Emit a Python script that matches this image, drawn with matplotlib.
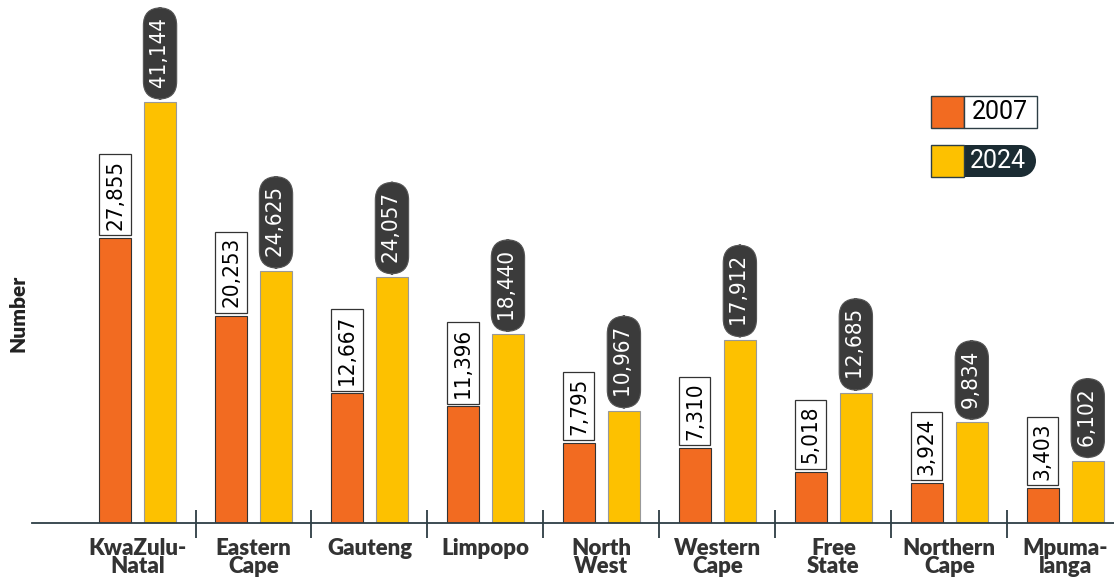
import matplotlib
matplotlib.use('Agg')
import numpy as np
import matplotlib.pyplot as plt
from matplotlib.patches import Rectangle, Circle

provinces = ['KwaZulu-\nNatal', 'Eastern\nCape', 'Gauteng', 'Limpopo', 'North\nWest',
             'Western\nCape', 'Free\nState', 'Northern\nCape', 'Mpuma-\nlanga']
v2007 = [27855, 20253, 12667, 11396, 7795, 7310, 5018, 3924, 3403]
v2024 = [41144, 24625, 24057, 18440, 10967, 17912, 12685, 9834, 6102]
years = ['2007', '2024']

ORANGE = '#F26B21'
YELLOW = '#FDC100'
PILL = '#3b3b3b'
DARK = '#1b2c33'
NUMFONT = dict(family='DejaVu Sans', stretch='condensed')

fig = plt.figure(figsize=(11.14, 5.77), dpi=100)
ax = fig.add_axes([32 / 1114, 54 / 577, 1 - 32 / 1114, 1 - 54 / 577])

x = np.arange(len(provinces))
w = 0.276
off = 0.194
ax.bar(x - off, v2007, w, color=ORANGE, edgecolor='#333333', linewidth=0.8)
ax.bar(x + off, v2024, w, color=YELLOW, edgecolor='#999999', linewidth=0.8)

# value labels
for xi, v in zip(x, v2007):
    ax.annotate('{:,}'.format(v), xy=(xi - off, v), xytext=(0, 6), textcoords='offset points',
                rotation=90, ha='center', va='bottom', fontsize=16, color='black', **NUMFONT,
                bbox=dict(boxstyle='square,pad=0.25', fc='white', ec='#333333', lw=0.9))
for xi, v in zip(x, v2024):
    ax.annotate('\u2009{:,}\u2009'.format(v), xy=(xi + off, v), xytext=(0, 7), textcoords='offset points',
                rotation=90, ha='center', va='bottom', fontsize=16, color='white', **NUMFONT,
                bbox=dict(boxstyle='round,pad=0.3,rounding_size=0.8', fc=PILL, ec='#555555', lw=0.8))

ax.set_xlim(-0.91, 8.42)
ax.set_ylim(0, 51120)

# group separators
ax.vlines(x[:-1] + 0.5, -1470, 1270, color=DARK, lw=1.2, clip_on=False)

for s in ['top', 'right', 'left']:
    ax.spines[s].set_visible(False)
ax.spines['bottom'].set_color('#2d3e45')
ax.spines['bottom'].set_linewidth(1.3)
ax.set_yticks([])
ax.set_xticks(x)
ax.set_xticklabels(provinces, fontsize=16, fontweight='heavy', family='Lato', color='#333333',
                   linespacing=0.78)
ax.tick_params(axis='x', length=0, pad=11)

fig.text(18 / 1114, 1 - 313 / 577, 'Number', rotation=90, ha='center', va='center',
         fontsize=15, fontweight='heavy', family='Lato', color='#222222')

# legend (drawn in inches from bottom-left)
def px(xp, yp):
    return xp / 100, (577 - yp) / 100

tr = fig.dpi_scale_trans
fig.add_artist(Rectangle(px(931, 128), 0.33, 0.32, transform=tr, fc=ORANGE, ec='#2d3e45', lw=1))
fig.add_artist(Rectangle(px(964, 128), 0.73, 0.32, transform=tr, fc='white', ec='#2d3e45', lw=1))
fig.text(1000 / 1114, 1 - 112 / 577, years[0], ha='center', va='center', fontsize=18,
         family='Roboto', color='black')
fig.add_artist(Rectangle(px(964, 177), 0.56, 0.32, transform=tr, fc=DARK, ec=DARK, lw=0))
fig.add_artist(Circle(px(1020, 161), 0.16, transform=tr, fc=DARK, ec=DARK, lw=0))
fig.add_artist(Rectangle(px(931, 177), 0.33, 0.32, transform=tr, fc=YELLOW, ec='#2d3e45', lw=1))
fig.text(998 / 1114, 1 - 161 / 577, years[1], ha='center', va='center', fontsize=18,
         family='Roboto', color='white')

fig.savefig('out.png', dpi=100)
